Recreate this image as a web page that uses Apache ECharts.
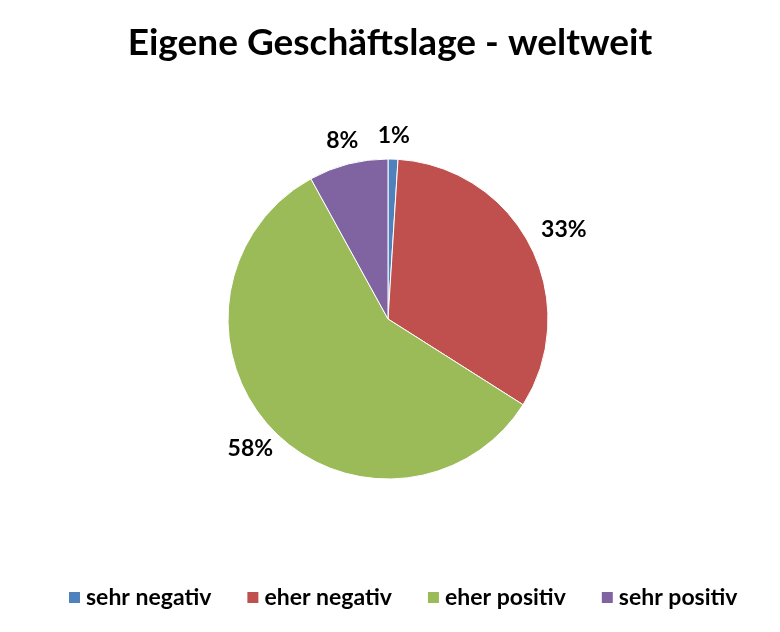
<!DOCTYPE html>
<html><head><meta charset="utf-8">
<script src="https://cdn.jsdelivr.net/npm/echarts@6/dist/echarts.min.js"></script>
<style>html,body{margin:0;padding:0;background:#fff}#c{width:780px;height:632px}</style>
</head><body><div id="c"></div>
<script>
const categories = ['sehr negativ', 'eher negativ', 'eher positiv', 'sehr positiv'];
const values = [1, 33, 58, 8];
const colors = ['#4F81BD', '#C0504D', '#9BBB59', '#8064A2'];
const titleText = 'Eigene Geschäftslage - weltweit';

const FONT = 'Lato, "Open Sans", sans-serif';
const chart = echarts.init(document.getElementById('c'));
chart.setOption({
  animation: false,
  title: {
    text: titleText, left: 'center', top: 20,
    textStyle: { fontFamily: FONT, fontWeight: 'bold', fontSize: 37, color: '#000' }
  },
  legend: {
    bottom: 18, left: 62, itemWidth: 13, itemHeight: 13, itemGap: 34,
    icon: 'rect',
    textStyle: { fontFamily: FONT, fontWeight: 'bold', fontSize: 23, color: '#000' },
    data: categories
  },
  series: [{
    type: 'pie',
    center: [388, 319], radius: 160,
    startAngle: 90, clockwise: true,
    itemStyle: { borderColor: '#fff', borderWidth: 1 },
    label: {
      show: true, position: 'outside',
      formatter: p => p.value + '%',
      fontFamily: FONT, fontWeight: 'bold', fontSize: 23, color: '#000'
    },
    labelLine: { show: false, length: 10, length2: 0 },
    labelLayout: function (params) {
      const p = params.labelLinePoints;
      if (!p) return {};
      const dx = p[1][0] - p[0][0], dy = p[1][1] - p[0][1];
      const len = Math.hypot(dx, dy) || 1;
      const ux = dx / len, uy = dy / len;
      const w = params.labelRect.width, h = params.labelRect.height;
      const ext = Math.min(Math.abs(ux) > 1e-6 ? w / 2 / Math.abs(ux) : 1e9,
                           Math.abs(uy) > 1e-6 ? h / 2 / Math.abs(uy) : 1e9);
      const gap = 12;
      return { x: p[0][0] + ux * (gap + ext), y: p[0][1] + uy * (gap + ext), align: 'center', verticalAlign: 'middle' };
    },
    data: categories.map((c, i) => ({ name: c, value: values[i], itemStyle: { color: colors[i] } }))
  }]
});
</script></body></html>
